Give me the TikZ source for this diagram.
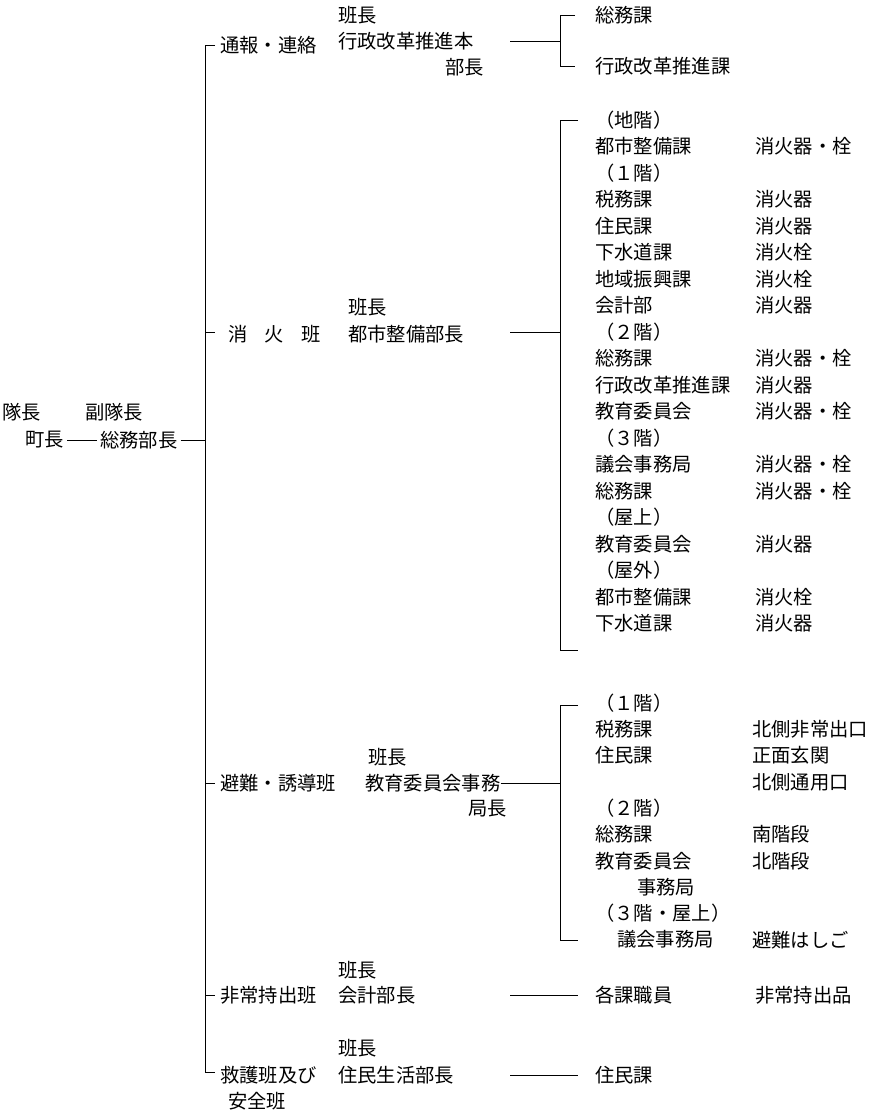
\documentclass[tikz,border=0pt]{standalone}
\usepackage{fontspec}
\setmainfont{Noto Sans CJK JP}
\begin{document}
\begin{tikzpicture}[x=1pt,y=-1pt,
  t/.style={anchor=west,inner sep=0pt,font=\fontsize{19.3}{20}\selectfont},
  ln/.style={line width=0.9pt}]
\useasboundingbox (0,0) rectangle (872,1115);
% left
\node[t] (a1) at (2,412) {隊長};
\node[t] (a2) at (85,412) {副隊長};
\node[t] (cho) at (25,440) {町長};
\node[t] (som) at (100,440) {総務部長};
\draw[ln] (cho.east)+(3,0) -- ([xshift=-3]som.west);
\coordinate (m0) at (205,45);
\coordinate (m1) at (205,1072);
\draw[ln] (215,45) -- (m0) -- (m1) -- (215,1072);
\draw[ln] ([xshift=3]som.east) -- (205,440);
\foreach \y in {332,783,995} \draw[ln] (205,\y) -- (215,\y);
% branches
\node[t] at (220,45) {通報・連絡};
\node[t] at (338,15) {班長};
\node[t] (b1) at (338,41) {行政改革推進本};
\node[t] at (445,67) {部長};
\node[t] at (228,334) {消\hspace{0.9em}火\hspace{0.9em}班};
\node[t] at (348,307) {班長};
\node[t] (b2) at (348,334) {都市整備部長};
\node[t] at (220,783) {避難・誘導班};
\node[t] at (368,757) {班長};
\node[t] (b3) at (365,783) {教育委員会事務};
\node[t] at (468,809) {局長};
\node[t] at (220,995) {非常持出班};
\node[t] at (338,970) {班長};
\node[t] (b4) at (338,995) {会計部長};
\node[t] at (220,1075) {救護班及び};
\node[t] at (228,1101) {安全班};
\node[t] at (338,1048) {班長};
\node[t] (b5) at (338,1075) {住民生活部長};
% brackets
\draw[ln] (510,41) -- (560,41);
\draw[ln] (575,15) -- (560,15) -- (560,66) -- (575,66);
\draw[ln] (510,332) -- (560,332);
\draw[ln] (578,120) -- (560,120) -- (560,650) -- (578,650);
\draw[ln] (b3.east) -- (560,783);
\draw[ln] (578,705) -- (560,705) -- (560,940) -- (578,940);
\draw[ln] (510,995) -- (578,995);
\draw[ln] (510,1075) -- (578,1075);
\node[t] at (595,15) {総務課};
\node[t] at (595,66) {行政改革推進課};
% fire list
\foreach \i/\l/\r in {0/（地階）/,1/都市整備課/消火器・栓,2/（１階）/,3/税務課/消火器,4/住民課/消火器,5/下水道課/消火栓,6/地域振興課/消火栓,7/会計部/消火器,8/（２階）/,9/総務課/消火器・栓,10/行政改革推進課/消火器,11/教育委員会/消火器・栓,12/（３階）/,13/議会事務局/消火器・栓,14/総務課/消火器・栓,15/（屋上）/,16/教育委員会/消火器,17/（屋外）/,18/都市整備課/消火栓,19/下水道課/消火器}{
  \node[t] at (595,120+26.5*\i) {\l};
  \node[t] at (755,120+26.5*\i) {\r};
}
% evac list
\foreach \i/\x/\l/\r in {0/595/（１階）/,1/595/税務課/北側非常出口,2/595/住民課/正面玄関,3/595//北側通用口,4/595/（２階）/,5/595/総務課/南階段,6/595/教育委員会/北階段,7/637/事務局/,8/595/（３階・屋上）/,9/617/議会事務局/避難はしご}{
  \node[t] at (\x,703+26.3*\i) {\l};
  \node[t] at (752,703+26.3*\i) {\r};
}
\node[t] at (595,995) {各課職員};
\node[t] at (755,995) {非常持出品};
\node[t] at (595,1075) {住民課};
\end{tikzpicture}
\end{document}
